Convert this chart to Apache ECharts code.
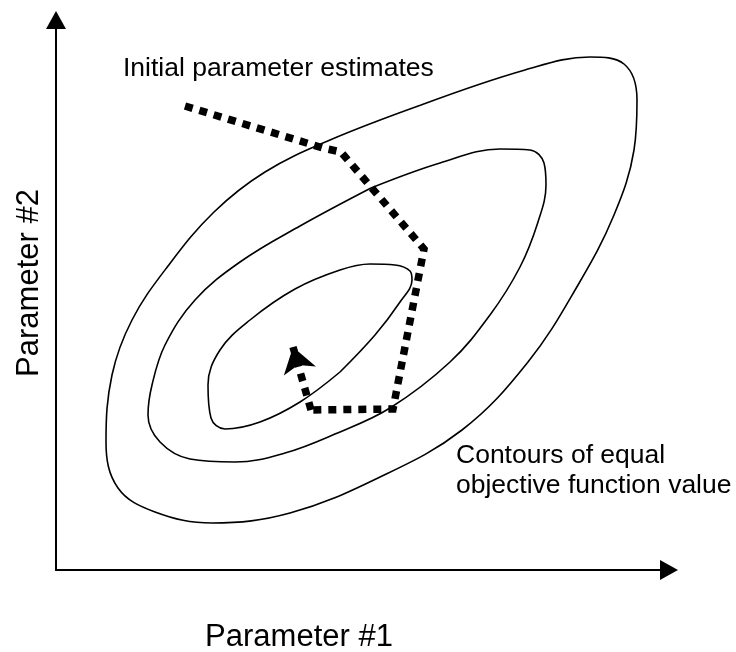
<!DOCTYPE html>
<html><head><meta charset="utf-8">
<script src="https://cdn.jsdelivr.net/npm/echarts@6/dist/echarts.min.js"></script>
<style>html,body{margin:0;padding:0;background:#fff}#c{width:736px;height:652px}</style>
</head><body><div id="c"></div>
<script>
// Parameter space (arbitrary units): Parameter #1 on x, Parameter #2 on y
const xRange = [0, 613];
const yRange = [0, 550];

// Contours of equal objective function value (closed loops)
const outerContour = [
  [365,465],[469,500],[534,513],[568,506],[581,470],[578,420],[558,355],[522,285],
  [472,208],[406,140],[322,92],[234,57],[156,47],[99,58],[62,82],[50,128],
  [56,195],[76,250],[112,304],[158,358],[209,398],[274,430],[365,465]
];
const middleContour = [
  [315,382],[384,407],[444,421],[474,420],[488,407],[490,385],[482,348],[464,303],
  [434,255],[394,208],[334,162],[279,136],[229,117],[179,108],[134,111],[104,128],
  [92,155],[96,185],[109,225],[139,270],[184,308],[244,344],[315,382]
];
const innerContour = [
  [284,198],[319,235],[344,268],[356,290],[354,299],[339,305],[314,306],[284,300],
  [239,281],[194,250],[164,220],[152,185],[155,152],[169,141],[204,148],[244,168],
  [284,198]
];

// Search path from the initial parameter estimates
const searchPath = [[129,464],[267,422],[285,418],[368,321],[337,161],[255,160]];
const finalStep = [[255,160],[237,223]];

// Labels
const xName = 'Parameter #1';
const yName = 'Parameter #2';
const startLabel = 'Initial parameter estimates';
const contourLabel = 'Contours of equal\nobjective function value';

const FONT = '"Liberation Sans", Arial, sans-serif';
const chart = echarts.init(document.getElementById('c'), null, {renderer: 'canvas'});

function contourSeries(data) {
  return {
    type: 'line', data: data, smooth: 0.38, symbol: 'none', silent: true,
    lineStyle: {color: '#000', width: 1.6}
  };
}
const dotted = {color: '#000', width: 7.5, type: [8, 7], cap: 'butt', join: 'miter'};

chart.setOption({
  animation: false,
  backgroundColor: '#fff',
  grid: {left: 56, right: 67, top: 20, bottom: 82, containLabel: false},
  xAxis: {
    type: 'value', min: xRange[0], max: xRange[1],
    axisLine: {show: true, onZero: false, symbol: ['none', 'triangle'], symbolSize: [20, 18],
      lineStyle: {color: '#000', width: 2}},
    axisTick: {show: false}, axisLabel: {show: false}, splitLine: {show: false}
  },
  yAxis: {
    type: 'value', min: yRange[0], max: yRange[1],
    axisLine: {show: true, onZero: false, symbol: ['none', 'triangle'], symbolSize: [20, 18],
      lineStyle: {color: '#000', width: 2}},
    axisTick: {show: false}, axisLabel: {show: false}, splitLine: {show: false}
  },
  series: [
    contourSeries(outerContour),
    contourSeries(middleContour),
    contourSeries(innerContour),
    {type: 'line', data: searchPath, symbol: 'none', silent: true, lineStyle: dotted},
    {type: 'lines', coordinateSystem: 'cartesian2d', silent: true,
      symbol: ['none', 'arrow'], symbolSize: 25,
      lineStyle: Object.assign({opacity: 1}, dotted),
      itemStyle: {color: '#000'},
      data: [{coords: finalStep}]}
  ],
  graphic: [
    {type: 'text', x: 123, y: 69, silent: true,
      style: {text: startLabel, font: '26.5px ' + FONT, fill: '#000',
        textAlign: 'left', textVerticalAlign: 'middle', align: 'left', verticalAlign: 'middle'}},
    {type: 'text', x: 456, y: 471, silent: true,
      style: {text: contourLabel, font: '26.5px ' + FONT, fill: '#000', lineHeight: 30,
        textAlign: 'left', textVerticalAlign: 'middle', align: 'left', verticalAlign: 'middle'}},
    {type: 'text', x: 299, y: 637, silent: true,
      style: {text: xName, font: '31px ' + FONT, fill: '#000',
        textAlign: 'center', textVerticalAlign: 'middle', align: 'center', verticalAlign: 'middle'}},
    {type: 'text', x: 29, y: 283, rotation: Math.PI / 2, silent: true,
      style: {text: yName, font: '31px ' + FONT, fill: '#000',
        textAlign: 'center', textVerticalAlign: 'middle', align: 'center', verticalAlign: 'middle'}}
  ]
});
</script>
</body></html>
